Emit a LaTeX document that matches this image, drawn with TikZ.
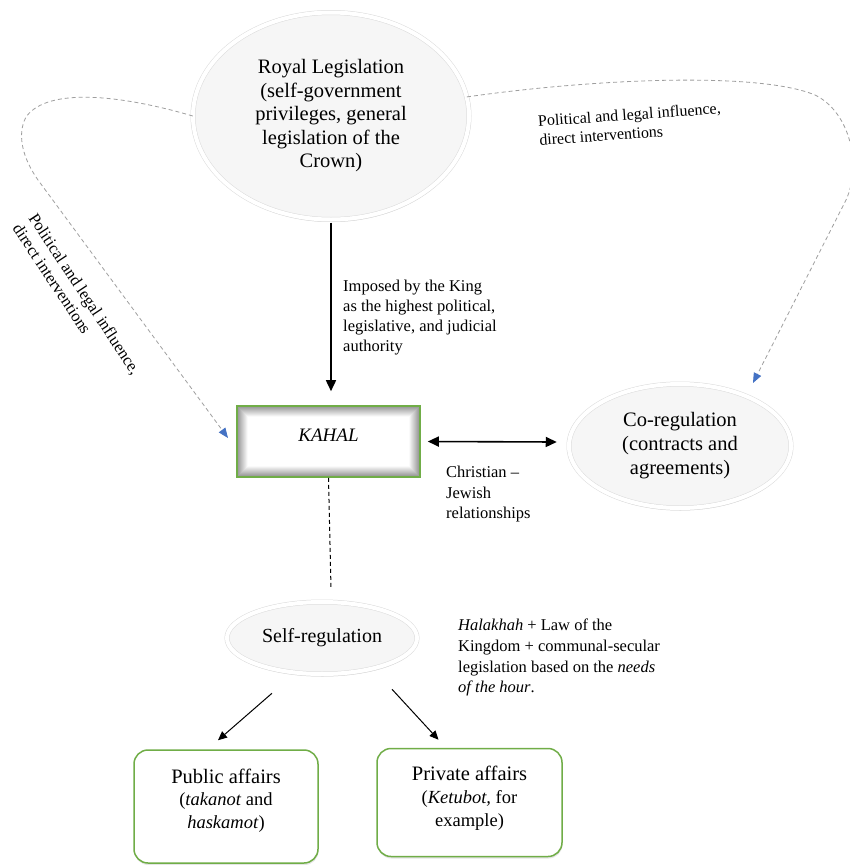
\documentclass[tikz,border=0pt]{standalone}
\usepackage{fontspec}
\setmainfont{Liberation Serif}
\usetikzlibrary{shapes.geometric,arrows.meta,shadows,backgrounds,calc}
\definecolor{grn}{HTML}{70AD47}
\definecolor{blu}{HTML}{4472C4}
\tikzset{
  oval/.style={ellipse, inner sep=0pt, align=center, fill=gray!7, draw=gray!28,
    double=white, double distance=4pt, line width=0.5pt,
    drop shadow={opacity=0.3, shadow xshift=0.5pt, shadow yshift=-2.5pt}},
  kahalbox/.style={rectangle, draw=grn, line width=1.6pt, inner sep=0pt},
  greenbox/.style={rectangle, rounded corners=14pt, draw=grn, line width=1.5pt, fill=white,
    inner sep=0pt,
    drop shadow={opacity=0.2, shadow xshift=0.5pt, shadow yshift=-2pt}},
  boxtxt/.style={align=center, inner sep=0pt, anchor=north},
  lbl/.style={align=left, inner sep=0pt},
  infl/.style={draw=gray!75, dashed, dash pattern=on 4pt off 3pt, line width=0.8pt,
    -{Triangle[color=blu, length=10pt, width=8pt]}},
  solidarr/.style={draw=black, line width=1pt, -{Triangle[length=9pt, width=8pt]}},
}
\begin{document}
\begin{tikzpicture}[x=1pt, y=-1pt]
\useasboundingbox (0,0) rectangle (850,865);

\coordinate (ltip) at (228,438);
\coordinate (rtip) at (753,383);

\node[oval, minimum width=276pt, minimum height=207pt,
  font=\fontsize{20.5}{23.5}\selectfont] (royal) at (331,116)
  {Royal Legislation\\(self-government\\privileges, general\\legislation of the\\Crown)};

\draw[infl] (royal.west) .. controls (125,96) and (48,86) .. (26,117)
  .. controls (16,136) and (24,160) .. (38,180) -- (ltip);
\draw[infl] (royal.8) .. controls (600,78) and (760,72) .. (815,95)
  .. controls (850,112) and (862,165) .. (846,200) -- (rtip);

\node[kahalbox, minimum width=183pt, minimum height=71pt] (kahal) at (328.5,441.5)
  {\fontsize{19}{22}\selectfont\raisebox{0pt}[0pt][0pt]{\textit{KAHAL}}};
\begin{scope}[on background layer]
  \fill[white] (0,0) rectangle (850,865);
  \foreach \i in {0,...,11} {
    \pgfmathtruncatemacro\c{max(0,46-4*\i)}
    \fill[black!\c!white] ($(kahal.north west)+(\i,\i)$) rectangle ($(kahal.south east)+(-\i,-\i)$);
  }
  \fill[white] ($(kahal.north west)+(12,12)$) rectangle ($(kahal.south east)+(-12,-12)$);
\end{scope}

\node[oval, minimum width=222pt, minimum height=124pt,
  font=\fontsize{20.5}{24}\selectfont] (co) at (680,446)
  {Co-regulation\\(contracts and\\agreements)};

\node[oval, minimum width=190pt, minimum height=72pt,
  font=\fontsize{20}{22}\selectfont] (self) at (322,638) {Self-regulation};

\node[greenbox, minimum width=184pt, minimum height=113pt,
  label={[boxtxt, yshift=-19.5pt, font=\fontsize{20.5}{22.5}\selectfont]north:Public affairs\\{\fontsize{18.5}{22.5}\selectfont(\textit{takanot} and}\\{\fontsize{18.5}{22.5}\selectfont\textit{haskamot})}}] (pub) at (226,806.5) {};

\node[greenbox, minimum width=185pt, minimum height=108pt,
  label={[boxtxt, yshift=-18.5pt, font=\fontsize{20.5}{23}\selectfont]north:Private affairs\\{\fontsize{18.5}{22}\selectfont(\textit{Ketubot,} for}\\{\fontsize{18.5}{22}\selectfont example)}}] (priv) at (469.5,802.5) {};

% connectors
\draw[line width=1.6pt, -{Triangle[length=11pt, width=10pt]}, shorten <=3pt, shorten >=14pt]
  (royal.south) -- (royal.south |- kahal.north);
\draw[line width=1.6pt, {Triangle[length=11pt, width=10pt]}-{Triangle[length=11pt, width=10pt]}]
  ($(kahal.east)+(7,0)$) -- ($(co.west)+(-12,-4)$);
\draw[line width=1pt, dash pattern=on 4pt off 3pt]
  (kahal.south) -- ($(self.north)+(9,-13)$);
\draw[solidarr] ($(self.south)+(-50,19)$) -- ($(pub.north)+(-8,-9)$);
\draw[solidarr] ($(self.south)+(70,15)$) -- ($(priv.north)+(-31,-8)$);

% labels
\node[lbl, anchor=north west, font=\fontsize{16.5}{20}\selectfont] (imposed) at (343,280)
  {Imposed by the King\\as the highest political,\\legislative, and judicial\\authority};
\node[lbl, anchor=north west, font=\fontsize{16.5}{20.5}\selectfont] (cj) at (446,466)
  {Christian --\\Jewish\\relationships};
\node[lbl, anchor=north west, font=\fontsize{16.5}{20.7}\selectfont] (hal) at (458,619)
  {\textit{Halakhah} + Law of the\\Kingdom + communal-secular\\legislation based on the \textit{needs}\\\textit{of the hour}.};
\node[lbl, rotate=4, font=\fontsize{16}{19}\selectfont] (rinfl) at (630,124)
  {Political and legal influence,\\direct interventions};
\node[lbl, rotate=-56.5, font=\fontsize{16.5}{19}\selectfont] (linfl) at (77,299)
  {Political and legal influence,\\direct interventions};
\end{tikzpicture}
\end{document}
